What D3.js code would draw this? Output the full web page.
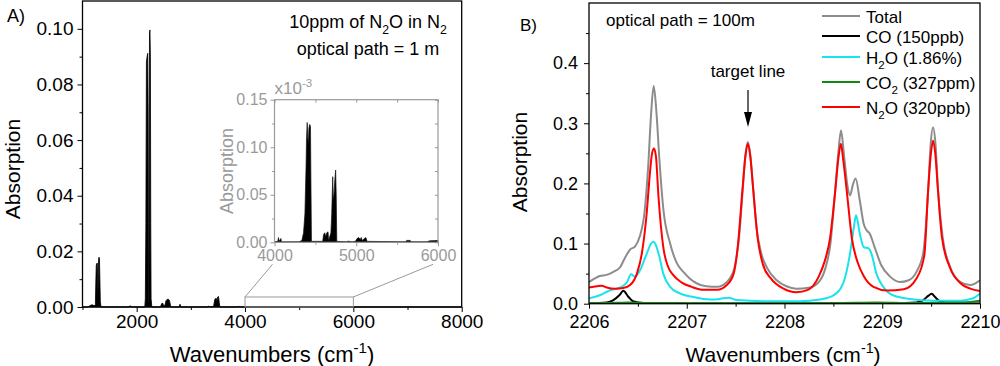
<!DOCTYPE html>
<html><head><meta charset="utf-8">
<script src="https://cdn.jsdelivr.net/npm/d3@7"></script>
<style>
body{margin:0;background:#fff;}
svg text{font-family:"Liberation Sans",Arial,sans-serif;}
</style>
</head><body>
<svg id="c" width="1000" height="366"></svg>
<script>
// ---------------- DATA ----------------
// Panel A: full spectrum, [wavenumber cm-1, absorption]
const spectrumA = [
  [1000,0],[1100,0],[1120,0.0003],[1150,0.0006],[1175,0.0008],[1200,0.0006],[1225,0.0005],[1238,0.0009],
  [1245,0.008],[1254,0.0150],[1264,0.0156],[1274,0.0158],[1280,0.010],[1286,0.004],[1291,0.012],[1297,0.0172],
  [1305,0.0179],[1313,0.0175],[1321,0.010],[1329,0.002],[1342,0],
  [1860,0],[1880,0.0005],[1900,0],
  [2150,0],[2160,0.003],[2170,0.03],[2180,0.088],[2192,0.0900],[2204,0.0912],[2212,0.07],[2218,0.02],
  [2222,0.002],[2227,0.002],[2231,0.05],[2237,0.0985],[2245,0.0996],[2253,0.09],[2260,0.03],[2266,0.003],[2280,0],
  [2440,0],[2460,0.0012],[2480,0.0014],[2500,0.0004],[2525,0.0008],[2540,0.0022],[2560,0.0027],[2585,0.0028],[2605,0.0024],[2625,0.0005],[2640,0],
  [2780,0],[2800,0.001],[2820,0],
  [3300,0],[3330,0.0003],[3360,0],[3420,0.0002],[3440,0.0026],[3465,0.0032],[3480,0.0022],[3495,0.0036],[3510,0.0038],[3525,0.0015],[3535,0],
  [3850,0],[3880,0.0002],[3920,0],[8000,0]
];
// zoomed box drawn on panel A (x range, top absorption)
const zoomBoxA = [4000, 6000, 0.0036];

// Inset: [wavenumber, absorption x10^-3]
const spectrumInset = [
  [4000,0.0005],[4040,0.001],[4048,0.005],[4056,0.001],[4078,0.004],[4085,0.0005],[4300,0.0005],
  [4335,0.002],[4355,0.010],[4372,0.030],[4386,0.080],[4392,0.110],[4400,0.126],[4407,0.110],[4414,0.105],
  [4421,0.120],[4430,0.124],[4440,0.122],[4446,0.060],[4452,0.001],
  [4590,0.001],[4600,0.008],[4615,0.010],[4625,0.006],[4640,0.010],[4655,0.011],[4662,0.002],
  [4690,0.010],[4700,0.030],[4712,0.069],[4720,0.045],[4728,0.050],[4738,0.066],[4748,0.076],[4755,0.050],[4762,0.001],
  [4880,0.0005],[4900,0.0012],[4950,0.0005],[4990,0.001],[5010,0.004],[5030,0.005],[5050,0.003],[5060,0.005],
  [5075,0.002],[5100,0.004],[5118,0.005],[5132,0.001],[5600,0.0005],[5620,0.002],[5660,0.002],[5670,0.0005],
  [5860,0.0005],[5900,0.0015],[6000,0.002]
];

// Panel B: [wavenumber, absorption]
const totalB = [
  [2206.00,0.036],[2206.06,0.042],[2206.11,0.046],[2206.18,0.048],[2206.25,0.053],[2206.32,0.061],[2206.37,0.077],
  [2206.42,0.090],[2206.47,0.095],[2206.52,0.112],[2206.57,0.155],[2206.605,0.227],[2206.635,0.315],[2206.662,0.362],
  [2206.69,0.318],[2206.72,0.240],[2206.76,0.158],[2206.83,0.100],[2206.90,0.067],[2206.97,0.052],[2207.03,0.042],
  [2207.10,0.034],[2207.20,0.029],[2207.31,0.028],[2207.37,0.031],[2207.44,0.042],[2207.49,0.061],[2207.535,0.110],
  [2207.575,0.194],[2207.60,0.247],[2207.625,0.269],[2207.65,0.248],[2207.675,0.200],[2207.715,0.125],[2207.76,0.085],
  [2207.82,0.060],[2207.92,0.039],[2208.02,0.029],[2208.12,0.025],[2208.26,0.027],[2208.36,0.038],[2208.42,0.060],
  [2208.47,0.100],[2208.52,0.192],[2208.55,0.250],[2208.578,0.288],[2208.61,0.245],[2208.645,0.195],[2208.67,0.180],
  [2208.70,0.198],[2208.728,0.208],[2208.77,0.172],[2208.81,0.133],[2208.84,0.122],[2208.87,0.117],[2208.92,0.095],
  [2208.99,0.064],[2209.08,0.045],[2209.18,0.036],[2209.27,0.039],[2209.35,0.053],[2209.42,0.085],[2209.47,0.190],
  [2209.495,0.265],[2209.52,0.293],[2209.545,0.265],[2209.57,0.190],[2209.62,0.108],[2209.69,0.063],[2209.80,0.036],
  [2209.90,0.031],[2210.00,0.039]
];
const coB = [
  [2206.00,0.0005],[2206.18,0.002],[2206.25,0.006],[2206.31,0.014],[2206.352,0.0215],[2206.40,0.012],[2206.45,0.004],
  [2206.56,0.001],[2207.00,0.0003],[2209.00,0.0003],[2209.35,0.002],[2209.42,0.006],[2209.47,0.013],[2209.505,0.0165],
  [2209.54,0.011],[2209.59,0.004],[2209.69,0.001],[2210.00,0.0003]
];
const h2oB = [
  [2206.00,0.009],[2206.11,0.014],[2206.21,0.022],[2206.32,0.027],[2206.39,0.036],[2206.43,0.049],[2206.47,0.045],
  [2206.52,0.055],[2206.59,0.083],[2206.635,0.100],[2206.66,0.103],[2206.69,0.095],[2206.72,0.078],[2206.76,0.050],
  [2206.83,0.028],[2206.93,0.017],[2207.07,0.011],[2207.24,0.007],[2207.34,0.008],[2207.43,0.010],[2207.51,0.006],
  [2207.82,0.004],[2208.16,0.004],[2208.36,0.007],[2208.50,0.014],[2208.60,0.034],[2208.67,0.083],[2208.71,0.128],
  [2208.732,0.147],[2208.77,0.117],[2208.81,0.094],[2208.86,0.092],[2208.89,0.083],[2208.94,0.050],[2209.01,0.028],
  [2209.11,0.014],[2209.28,0.008],[2209.52,0.005],[2209.80,0.005],[2209.93,0.009],[2210.00,0.017]
];
const co2B = [
  [2206.00,0.0008],[2206.30,0.0015],[2206.40,0.002],[2206.60,0.001],[2207.50,0.0008],[2208.50,0.001],[2208.95,0.002],
  [2209.30,0.001],[2209.70,0.002],[2209.90,0.003],[2210.00,0.005]
];
const n2oB = [
  [2206.00,0.027],[2206.08,0.029],[2206.13,0.030],[2206.18,0.027],[2206.27,0.025],[2206.35,0.026],[2206.42,0.031],
  [2206.49,0.050],[2206.54,0.083],[2206.59,0.150],[2206.62,0.211],[2206.645,0.250],[2206.665,0.258],[2206.685,0.245],
  [2206.71,0.180],[2206.76,0.094],[2206.81,0.061],[2206.86,0.048],[2206.95,0.035],[2207.05,0.028],[2207.17,0.023],
  [2207.31,0.023],[2207.41,0.031],[2207.48,0.050],[2207.525,0.100],[2207.57,0.190],[2207.60,0.245],[2207.625,0.266],
  [2207.65,0.245],[2207.68,0.190],[2207.725,0.110],[2207.78,0.065],[2207.86,0.042],[2207.99,0.025],[2208.12,0.019],
  [2208.24,0.023],[2208.35,0.045],[2208.41,0.070],[2208.465,0.108],[2208.52,0.189],[2208.55,0.240],[2208.577,0.266],
  [2208.60,0.240],[2208.636,0.189],[2208.69,0.108],[2208.75,0.068],[2208.81,0.046],[2208.91,0.028],[2209.05,0.022],
  [2209.22,0.024],[2209.35,0.042],[2209.43,0.080],[2209.47,0.190],[2209.495,0.245],[2209.52,0.271],[2209.545,0.245],
  [2209.57,0.189],[2209.61,0.111],[2209.69,0.061],[2209.80,0.034],[2209.90,0.025],[2210.00,0.021]
];

// Ticks
const xTicksA = [2000,4000,6000,8000], xMinorA = [1000,3000,5000,7000];
const yTicksA = [0,0.02,0.04,0.06,0.08,0.10], yMinorA = [0.01,0.03,0.05,0.07,0.09];
const xTicksI = [4000,5000,6000], xMinorI = [4500,5500];
const yTicksI = [0,0.05,0.10,0.15], yMinorI = [0.025,0.075,0.125];
const xTicksB = [2206,2207,2208,2209,2210], xMinorB = [2206.5,2207.5,2208.5,2209.5];
const yTicksB = [0,0.1,0.2,0.3,0.4], yMinorB = [0.05,0.15,0.25,0.35,0.45];

const legendB = [
  {name:"Total", parts:[["Total",0]], color:"#8c8c8c"},
  {name:"CO", parts:[["CO (150ppb)",0]], color:"#000000"},
  {name:"H2O", parts:[["H",0],["2",1],["O (1.86%)",0]], color:"#19e3ee"},
  {name:"CO2", parts:[["CO",0],["2",1],[" (327ppm)",0]], color:"#118a11"},
  {name:"N2O", parts:[["N",0],["2",1],["O (320ppb)",0]], color:"#ff0000"}
];
const seriesB = [totalB, coB, h2oB, co2B, n2oB];

// ---------------- DRAW ----------------
const svg = d3.select("#c");
svg.append("rect").attr("width",1000).attr("height",366).attr("fill","#fff");
const FONT = '"Liberation Sans",Arial,sans-serif';

function styleAxis(g, size, color){
  g.select(".domain").remove();
  g.attr("font-family", FONT).attr("font-size", size).attr("color", color||"#000");
  g.selectAll("line").attr("stroke-width",1);
}
function addText(parent, x, y, parts, size, anchor, color){
  const t = parent.append("text").attr("x",x).attr("y",y).attr("font-size",size)
    .attr("text-anchor",anchor||"start").attr("fill",color||"#000");
  let shift = 0;
  parts.forEach(([s,mode])=>{
    const sp = t.append("tspan").text(s);
    let target = mode===1 ? size*0.32 : (mode===2 ? -size*0.42 : 0);
    if(mode) sp.attr("font-size", size*0.68);
    sp.attr("dy", target-shift); shift = target;
  });
  return t;
}

// ===== Panel A =====
const xA = d3.scaleLinear().domain([1000,8000]).range([82.5,461.7]);
const yA = d3.scaleLinear().domain([0,0.11]).range([307,1]);
const gA = svg.append("g");
gA.append("path").datum(spectrumA)
  .attr("d", d3.area().x(d=>xA(d[0])).y0(yA(0)).y1(d=>yA(d[1])))
  .attr("fill","#000").attr("stroke","#000").attr("stroke-width",0.8);

let ax;
ax = gA.append("g").attr("transform",`translate(0,${yA(0)})`)
  .call(d3.axisBottom(xA).tickValues(xTicksA).tickSize(5).tickSizeOuter(0).tickFormat(d3.format("d")));
styleAxis(ax, 19); ax.selectAll("text").attr("y",21).attr("dy",0);
ax = gA.append("g").attr("transform",`translate(0,${yA(0)})`)
  .call(d3.axisBottom(xA).tickValues(xMinorA).tickSize(3).tickFormat(""));
styleAxis(ax, 19);
ax = gA.append("g").attr("transform",`translate(${xA(1000)},0)`)
  .call(d3.axisLeft(yA).tickValues(yTicksA).tickSize(5).tickPadding(4).tickSizeOuter(0).tickFormat(d3.format(".2f")));
styleAxis(ax, 19);
ax = gA.append("g").attr("transform",`translate(${xA(1000)},0)`)
  .call(d3.axisLeft(yA).tickValues(yMinorA).tickSize(3).tickFormat(""));
styleAxis(ax, 19);
gA.append("rect").attr("x",xA(1000)).attr("y",yA(0.11)).attr("width",xA(8000)-xA(1000)).attr("height",yA(0)-yA(0.11))
  .attr("fill","none").attr("stroke","#000").attr("stroke-width",1.3);

addText(gA, 272, 362, [["Wavenumbers (cm",0],["-1",2],[")",0]], 22, "middle");
addText(gA, 0, 0, [["Absorption",0]], 21, "middle").attr("transform","translate(20,169) rotate(-90)");
addText(gA, 7, 22, [["A)",0]], 18, "start");
addText(gA, 368, 28, [["10ppm of N",0],["2",1],["O in N",0],["2",1]], 18, "middle");
addText(gA, 368, 55, [["optical path = 1 m",0]], 18, "middle");

// ===== Inset =====
const GRAY = "#9a9a9a";
const xI = d3.scaleLinear().domain([4000,6000]).range([274.5,438]);
const yI = d3.scaleLinear().domain([0,0.15]).range([242.3,99.7]);
const gI = svg.append("g");
// zoom box & connectors
gI.append("rect").attr("x",xA(zoomBoxA[0])).attr("y",yA(zoomBoxA[2]))
  .attr("width",xA(zoomBoxA[1])-xA(zoomBoxA[0])).attr("height",yA(0)-yA(zoomBoxA[2]))
  .attr("fill","none").attr("stroke",GRAY).attr("stroke-width",1);
gI.append("line").attr("x1",xA(zoomBoxA[0])).attr("y1",yA(zoomBoxA[2])).attr("x2",xI(4000)-2).attr("y2",yI(0)+22)
  .attr("stroke",GRAY).attr("stroke-width",1);
gI.append("line").attr("x1",xA(zoomBoxA[1])).attr("y1",yA(zoomBoxA[2])).attr("x2",xI(6000)-5).attr("y2",yI(0)+22)
  .attr("stroke",GRAY).attr("stroke-width",1);

gI.append("path").datum(spectrumInset)
  .attr("d", d3.area().x(d=>xI(d[0])).y0(yI(0)).y1(d=>yI(d[1])))
  .attr("fill","#000").attr("stroke","#111").attr("stroke-width",0.7);
ax = gI.append("g").attr("transform",`translate(0,${yI(0)})`)
  .call(d3.axisBottom(xI).tickValues(xTicksI).tickSize(4).tickSizeOuter(0).tickFormat(d3.format("d")));
styleAxis(ax, 16, GRAY); ax.selectAll("text").attr("y",19).attr("dy",0);
ax = gI.append("g").attr("transform",`translate(0,${yI(0)})`)
  .call(d3.axisBottom(xI).tickValues(xMinorI).tickSize(2.5).tickFormat(""));
styleAxis(ax, 16, GRAY);
ax = gI.append("g").attr("transform",`translate(0,${yI(0.15)})`)
  .call(d3.axisTop(xI).tickValues(xTicksI.concat(xMinorI)).tickSize(-3).tickFormat(""));
styleAxis(ax, 16, GRAY);
ax = gI.append("g").attr("transform",`translate(${xI(4000)},0)`)
  .call(d3.axisLeft(yI).tickValues(yTicksI).tickSize(4).tickPadding(3).tickFormat(d3.format(".2f")));
styleAxis(ax, 16, GRAY);
ax = gI.append("g").attr("transform",`translate(${xI(4000)},0)`)
  .call(d3.axisLeft(yI).tickValues(yMinorI).tickSize(2.5).tickFormat(""));
styleAxis(ax, 16, GRAY);
ax = gI.append("g").attr("transform",`translate(${xI(6000)},0)`)
  .call(d3.axisRight(yI).tickValues(yTicksI.concat(yMinorI)).tickSize(-3).tickFormat(""));
styleAxis(ax, 16, GRAY);
gI.append("rect").attr("x",xI(4000)).attr("y",yI(0.15)).attr("width",xI(6000)-xI(4000)).attr("height",yI(0)-yI(0.15))
  .attr("fill","none").attr("stroke",GRAY).attr("stroke-width",1.2);
addText(gI, xI(4000), 94, [["x10",0],["-3",2]], 17, "start", GRAY);
addText(gI, 0, 0, [["Absorption",0]], 18, "middle", GRAY).attr("transform",`translate(233,${(yI(0)+yI(0.15))/2}) rotate(-90)`);

// ===== Panel B =====
const xB = d3.scaleLinear().domain([2206,2210]).range([589,980]);
const yB = d3.scaleLinear().domain([0,0.5]).range([303.7,3]);
const gB = svg.append("g");
const defs = svg.append("defs");
defs.append("clipPath").attr("id","clipB").append("rect")
  .attr("x",xB(2206)).attr("y",yB(0.5)).attr("width",xB(2210)-xB(2206)).attr("height",yB(0)-yB(0.5));
const lineB = d3.line().x(d=>xB(d[0])).y(d=>yB(d[1])).curve(d3.curveMonotoneX);
const gLines = gB.append("g").attr("clip-path","url(#clipB)");
seriesB.forEach((s,i)=>{
  gLines.append("path").datum(s).attr("d",lineB).attr("fill","none")
    .attr("stroke",legendB[i].color).attr("stroke-width",2).attr("stroke-linejoin","round");
});

ax = gB.append("g").attr("transform",`translate(0,${yB(0)})`)
  .call(d3.axisBottom(xB).tickValues(xTicksB).tickSize(5).tickSizeOuter(0).tickFormat(d3.format("d")));
styleAxis(ax, 18); ax.selectAll("text").attr("y",24).attr("dy",0);
ax = gB.append("g").attr("transform",`translate(0,${yB(0)})`)
  .call(d3.axisBottom(xB).tickValues(xMinorB).tickSize(3).tickFormat(""));
styleAxis(ax, 18);
ax = gB.append("g").attr("transform",`translate(${xB(2206)},0)`)
  .call(d3.axisLeft(yB).tickValues(yTicksB).tickSize(5).tickPadding(6).tickSizeOuter(0).tickFormat(d3.format(".1f")));
styleAxis(ax, 18);
ax = gB.append("g").attr("transform",`translate(${xB(2206)},0)`)
  .call(d3.axisLeft(yB).tickValues(yMinorB).tickSize(3).tickFormat(""));
styleAxis(ax, 18);
gB.append("rect").attr("x",xB(2206)).attr("y",yB(0.5)).attr("width",xB(2210)-xB(2206)).attr("height",yB(0)-yB(0.5))
  .attr("fill","none").attr("stroke","#000").attr("stroke-width",1.3);

addText(gB, 783, 362, [["Wavenumbers (cm",0],["-1",2],[")",0]], 21, "middle");
addText(gB, 0, 0, [["Absorption",0]], 21, "middle").attr("transform","translate(527,162) rotate(-90)");
addText(gB, 520, 31, [["B)",0]], 17, "start");
addText(gB, 606, 26, [["optical path = 100m",0]], 17, "start");
addText(gB, 748, 77, [["target line",0]], 17, "middle");
// arrow to target line
gB.append("line").attr("x1",748).attr("y1",90).attr("x2",748).attr("y2",114).attr("stroke","#000").attr("stroke-width",1.2);
gB.append("path").attr("d","M744,112 L752,112 L748,127 Z").attr("fill","#000");

// legend
const legY = [16,36,57,82,107];
legendB.forEach((L,i)=>{
  gB.append("line").attr("x1",822).attr("x2",860).attr("y1",legY[i]).attr("y2",legY[i])
    .attr("stroke",L.color).attr("stroke-width",2);
  addText(gB, 866, legY[i]+6.5, L.parts, 17, "start");
});
</script>
</body></html>
